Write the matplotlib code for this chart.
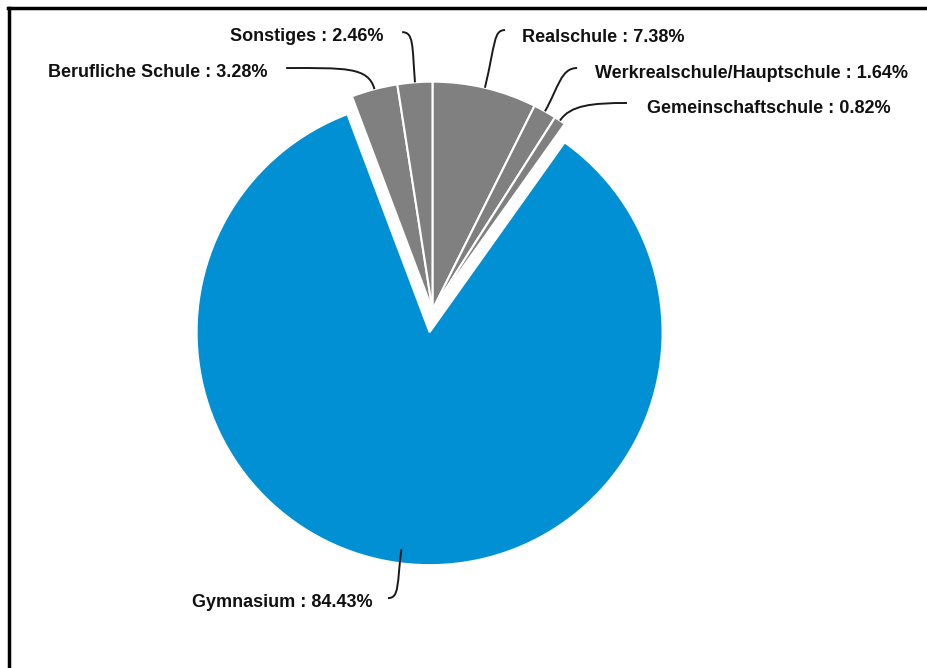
#!/usr/bin/env python3
# -*- coding: utf-8 -*-

import numpy as np
import matplotlib
matplotlib.use("Agg")
import matplotlib.pyplot as plt
from matplotlib.lines import Line2D
from matplotlib.path import Path
from matplotlib.patches import PathPatch

# Schulart der Teilnehmer, im Uhrzeigersinn ab 12 Uhr
schularten = ["Realschule", "Werkrealschule/Hauptschule", "Gemeinschaftschule",
              "Gymnasium", "Berufliche Schule", "Sonstiges"]
anteile = [7.38, 1.64, 0.82, 84.43, 3.28, 2.46]
hervorgehoben = "Gymnasium"

BLAU = "#0090d3"
GRAU = "#808080"

plt.rcParams["font.family"] = ["Liberation Sans", "DejaVu Sans"]

fig = plt.figure(figsize=(9.28, 6.68), dpi=100)
ax = fig.add_axes([0, 0, 1, 1])

farben = [BLAU if s == hervorgehoben else GRAU for s in schularten]
wedges, _ = ax.pie(anteile, colors=farben, startangle=90, counterclock=False,
                   wedgeprops=dict(edgecolor="white", linewidth=1.5))

# graue Gruppe und blaues Segment leicht auseinanderziehen
werte = np.array(anteile)
i_blau = schularten.index(hervorgehoben)
grau_vor = werte[:i_blau].sum()
grau_nach = werte[i_blau + 1:].sum()
mitte_grau = np.deg2rad((grau_vor - grau_nach) / 2 / 100 * 360)
abstand = 0.048
richtung = np.array([np.sin(mitte_grau), np.cos(mitte_grau)])
zentren = []
for i, w in enumerate(wedges):
    c = -richtung * abstand if i == i_blau else richtung * abstand
    w.set_center(tuple(c))
    if i != i_blau:
        w.set_radius(0.98)
    zentren.append(c)

ax.set_aspect("equal")
ax.set_xlim(-1.850, 2.133)
ax.set_ylim(-1.489, 1.378)
ax.axis("off")

# Beschriftung: Endpunkt der Linie, Textposition, Ausrichtung, Kurvenform
beschriftung = {
    "Realschule":                 ((0.318, 1.249), (0.391, 1.219), "left", 0.20, 0.05),
    "Werkrealschule/Hauptschule": ((0.627, 1.086), (0.704, 1.064), "left", 0.12, 0.07),
    "Gemeinschaftschule":         ((0.841, 0.936), (0.927, 0.914), "left", 0.08, 0.15),
    "Gymnasium":                  ((-0.185, -1.189), (-0.250, -1.210), "right", 0.15, 0.05),
    "Berufliche Schule":          ((-0.622, 1.086), (-0.700, 1.069), "right", 0.10, 0.25),
    "Sonstiges":                  ((-0.124, 1.240), (-0.202, 1.223), "right", 0.16, 0.05),
}

start = 0.0
for i, (name, wert) in enumerate(zip(schularten, anteile)):
    mitte = np.deg2rad((start + wert / 2) / 100 * 360)
    start += wert
    radial = np.array([np.sin(mitte), np.cos(mitte)])
    r0 = 0.94 if i == i_blau else 0.98
    s = zentren[i] + radial * r0
    ende, textpos, ha, k1, k2 = beschriftung[name]
    ende = np.array(ende)
    seite = -1 if ha == "right" else 1
    p1 = s + radial * k1
    p2 = ende - np.array([seite * k2, 0])
    pfad = Path([s, p1, p2, ende],
                [Path.MOVETO, Path.CURVE4, Path.CURVE4, Path.CURVE4])
    ax.add_patch(PathPatch(pfad, facecolor="none", edgecolor="#1a1a1a",
                           linewidth=1.4, zorder=3))
    ax.text(textpos[0], textpos[1], f"{name} : {wert:.2f}%", ha=ha, va="center",
            fontsize=13, fontweight="bold", color="#111111")

# Rahmen oben und links
fig.add_artist(Line2D([8 / 928, 1], [1 - 8 / 668, 1 - 8 / 668],
                      transform=fig.transFigure, color="black", linewidth=2.5))
fig.add_artist(Line2D([9 / 928, 9 / 928], [0, 1 - 8 / 668],
                      transform=fig.transFigure, color="black", linewidth=2.5))

fig.savefig("out.png", dpi=100, facecolor="white")
